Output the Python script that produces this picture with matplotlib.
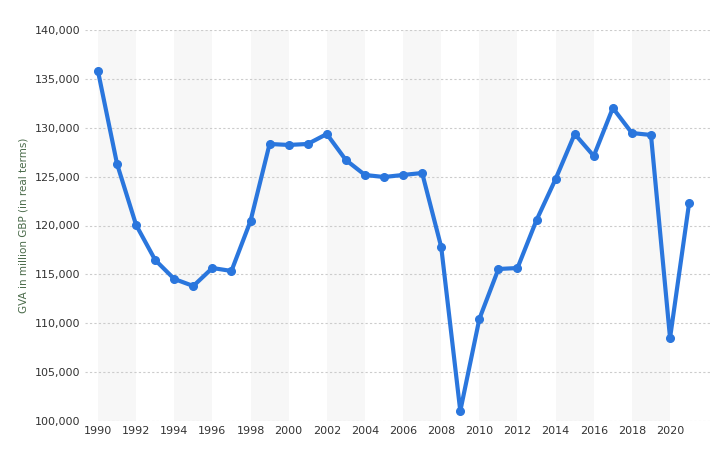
import matplotlib.pyplot as plt
from matplotlib.ticker import FuncFormatter

years = list(range(1990, 2022))
gva = [135800, 126300, 120050, 116470, 114530, 113810, 115650, 115350, 120460, 128340,
       128240, 128340, 129360, 126700, 125170, 124960, 125170, 125370, 117800, 101020,
       110440, 115550, 115650, 120560, 124760, 129360, 127110, 132020, 129460, 129260,
       108490, 122300]

W, H = 716, 470
fig = plt.figure(figsize=(W/100, H/100), dpi=100)
ax = fig.add_axes([85/W, 1-421/H, (712-85)/W, (421-30)/H])
ax.set_xlim(1989.32, 2022.2)
ax.set_ylim(100000, 140000)
for y0 in range(1990, 2022, 4):
    ax.axvspan(y0, y0+2, color='#f7f7f7', zorder=0, lw=0)
ax.set_yticks(range(100000, 140001, 5000))
ax.yaxis.set_major_formatter(FuncFormatter(lambda v, p: f"{int(v):,}"))
ax.set_xticks(range(1990, 2021, 2))
ax.grid(axis='y', color='#cccccc', linestyle=(0, (2, 2)), lw=0.8)
ax.set_axisbelow(True)
for s in ax.spines.values():
    s.set_visible(False)
ax.tick_params(length=0, colors='#333333', labelsize=8)
ax.plot(years, gva, color='#2a76dd', lw=3, marker='o', ms=5.5, zorder=3)
ax.set_ylabel('GVA in million GBP (in real terms)', fontsize=7.5, color='#4a6b4a')
fig.savefig('out.png', dpi=100)
